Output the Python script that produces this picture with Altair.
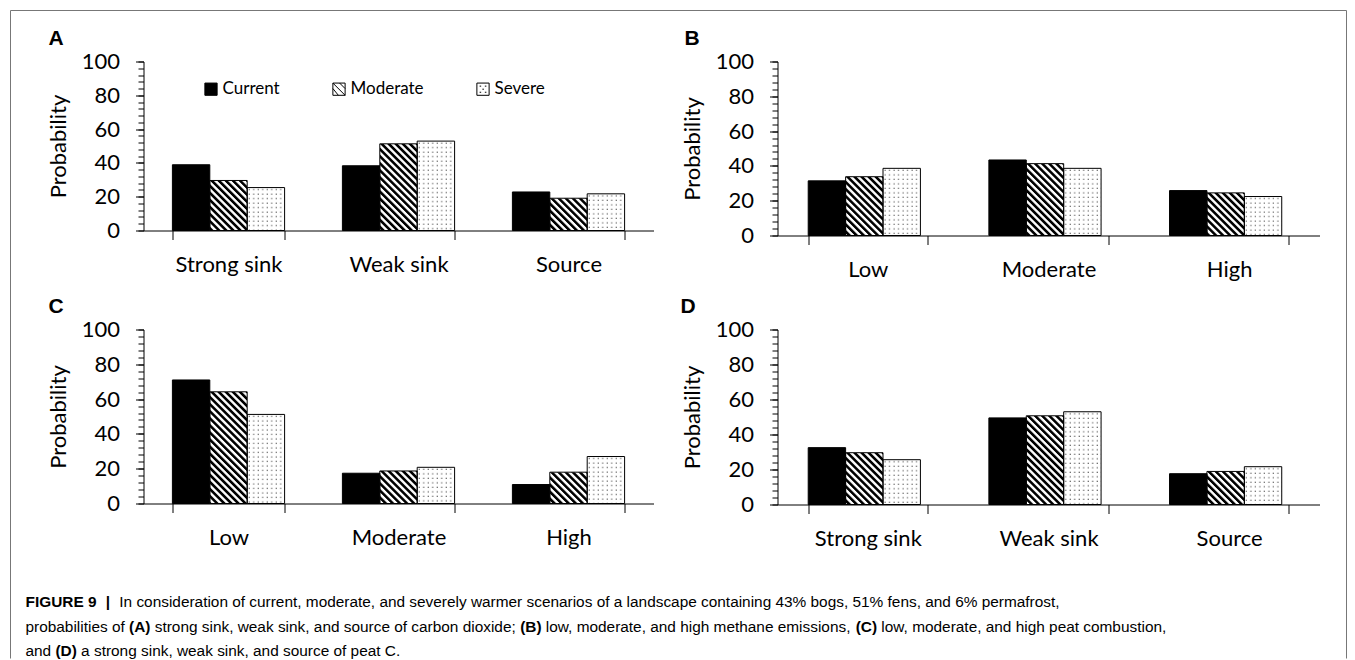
import base64
import altair as alt
import pandas as pd

# ---------------- data ----------------
scenarios = ["Current", "Moderate", "Severe"]
flux_classes = ["Strong sink", "Weak sink", "Source"]
levels = ["Low", "Moderate", "High"]

# (A) carbon dioxide
co2_current = [38.9, 38.3, 22.8]
co2_moderate = [29.6, 51.3, 19.1]
co2_severe = [25.4, 52.9, 21.7]
# (B) methane emissions
ch4_current = [31.4, 43.4, 25.8]
ch4_moderate = [33.8, 41.3, 24.5]
ch4_severe = [38.6, 38.6, 22.4]
# (C) peat combustion
comb_current = [71.0, 17.4, 10.9]
comb_moderate = [64.2, 18.7, 18.0]
comb_severe = [51.2, 20.8, 27.0]
# (D) peat C
peat_current = [32.5, 49.5, 17.6]
peat_moderate = [29.6, 50.7, 18.9]
peat_severe = [25.6, 53.0, 21.6]

caption_lines = [
    [("FIGURE 9", True), ("|", True),
     ("In consideration of current, moderate, and severely warmer scenarios of a landscape "
      "containing 43% bogs, 51% fens, and 6% permafrost,", False)],
    [("probabilities of", False), ("(A)", True),
     ("strong sink, weak sink, and source of carbon dioxide;", False), ("(B)", True),
     ("low, moderate, and high methane emissions,", False), ("(C)", True),
     ("low, moderate, and high peat combustion,", False)],
    [("and", False), ("(D)", True),
     ("a strong sink, weak sink, and source of peat C.", False)],
]


def table(cats, cur, mod, sev):
    rows = []
    for s, vals in zip(scenarios, [cur, mod, sev]):
        for c, v in zip(cats, vals):
            rows.append({"category": c, "scenario": s, "value": v})
    return pd.DataFrame(rows)


# ---------------- styles ----------------
FONT = "Lato"
CAP_FONT = "Liberation Sans"


def svg_uri(inner):
    svg = ('<svg xmlns="http://www.w3.org/2000/svg" width="100%" height="100%">'
           + inner + '</svg>')
    return "data:image/svg+xml;base64," + base64.b64encode(svg.encode()).decode()


HATCH = svg_uri(
    '<defs><pattern id="h" width="5" height="5" patternUnits="userSpaceOnUse" '
    'patternTransform="rotate(-45)"><rect width="2.6" height="5" fill="#000"/></pattern></defs>'
    '<rect width="100%" height="100%" fill="#fff"/><rect width="100%" height="100%" fill="url(#h)"/>')
DOTS = svg_uri(
    '<defs><pattern id="d" width="4.5" height="4.5" patternUnits="userSpaceOnUse">'
    '<rect x="1.5" y="1.5" width="1.1" height="1.1" fill="#444"/></pattern></defs>'
    '<rect width="100%" height="100%" fill="#fff"/><rect width="100%" height="100%" fill="url(#d)"/>')

HATCH_SYM = "M-1,-1H1V1H-1Z M-1,-1L1,1 M-1,-0.1L-0.1,1 M0.1,-1L1,-0.1"
DOT_SYM = ("M-1,-1H1V1H-1Z M-0.55,-0.5h0.25 M0.3,-0.5h0.25 M-0.1,0h0.25 "
           "M-0.55,0.5h0.25 M0.3,0.5h0.25")
SYMBOL_EXPR = ("datum.value === 'Moderate' ? '%s' : (datum.value === 'Severe' ? '%s' : 'square')"
               % (HATCH_SYM, DOT_SYM))


def panel(df, cats, w, h, letter, letter_dx, with_legend=False):
    x_enc = alt.X("category:N", sort=cats, title=None,
                  scale=alt.Scale(paddingInner=0.34, paddingOuter=0.17),
                  axis=alt.Axis(tickBand="extent", labelAngle=0, tickSize=9,
                                labelPadding=15))
    xo = alt.XOffset("scenario:N", sort=scenarios, scale=alt.Scale(domain=scenarios))
    ysc = alt.Scale(domain=[0, 100], nice=False)
    y_major = alt.Y("value:Q", scale=ysc,
                    axis=alt.Axis(orient="left", values=list(range(0, 101, 20)), tickSize=8,
                                  labelPadding=16, title="Probability", titlePadding=11))
    y_minor = alt.Y("value:Q", scale=ysc,
                    axis=alt.Axis(orient="left", values=list(range(0, 101, 4)), tickSize=5.5,
                                  labels=False, domain=False, title=None))
    y_none = alt.Y("value:Q", scale=ysc, axis=None)

    if with_legend:
        leg = alt.Legend(
            title=None, orient="none", legendX=59, legendY=19, direction="horizontal",
            columnPadding=50, symbolSize=150, symbolStrokeColor="black",
            symbolStrokeWidth=1, symbolOpacity=1, symbolType=alt.ExprRef(SYMBOL_EXPR),
            labelFont=FONT, labelFontSize=17, labelColor="black", labelOffset=3)
    else:
        leg = None

    base = alt.Chart(df)
    hatched = base.transform_filter(alt.datum.scenario == "Moderate").mark_image(
        aspect=False).encode(x=x_enc, xOffset=xo, y=y_minor, url=alt.value(HATCH))
    dotted = base.transform_filter(alt.datum.scenario == "Severe").mark_image(
        aspect=False).encode(x=x_enc, xOffset=xo, y=y_none, url=alt.value(DOTS))
    bars = base.mark_bar(stroke="black", strokeWidth=1).encode(
        x=x_enc, xOffset=xo, y=y_major,
        fill=alt.Fill("scenario:N", sort=scenarios,
                      scale=alt.Scale(domain=scenarios,
                                      range=["#000000", "transparent", "transparent"]),
                      legend=leg))
    lab = alt.Chart(pd.DataFrame({"letter": [letter]})).mark_text(
        align="left", baseline="middle", font=CAP_FONT, fontWeight="bold", fontSize=21,
        color="black", x=letter_dx, y=-23).encode(text="letter:N")
    layers = [hatched, dotted, bars, lab]
    return alt.layer(*layers).resolve_axis(y="independent").properties(width=w, height=h)


pA = panel(table(flux_classes, co2_current, co2_moderate, co2_severe), flux_classes,
           510, 169, "A", -95, with_legend=True)
pB = panel(table(levels, ch4_current, ch4_moderate, ch4_severe), levels,
           542, 174, "B", -93)
pC = panel(table(levels, comb_current, comb_moderate, comb_severe), levels,
           510, 174, "C", -95)
pD = panel(table(flux_classes, peat_current, peat_moderate, peat_severe), flux_classes,
           542, 175, "D", -97)

# ---------------- caption (text flowed with Arial-compatible advance widths) ----------------
CAP_SIZE = 15.4
REG_W = dict(zip("abcdefghijklmnopqrstuvwxyz",
                 [556, 556, 500, 556, 556, 278, 556, 556, 222, 222, 500, 222, 833,
                  556, 556, 556, 556, 333, 500, 278, 556, 500, 722, 500, 500, 500]))
REG_W.update({" ": 278, ",": 278, ".": 278, ";": 278, "%": 889, "(": 333, ")": 333,
              "|": 260, "I": 278, "C": 722})
REG_W.update({d: 556 for d in "0123456789"})
BOLD_W = {"F": 611, "I": 278, "G": 778, "U": 722, "R": 722, "E": 667, " ": 278, "9": 556,
          "(": 333, ")": 333, "A": 722, "B": 722, "C": 722, "D": 722, "|": 280}


def adv(s, bold):
    tbl = BOLD_W if bold else REG_W
    return sum(tbl.get(ch, 556) for ch in s) / 1000.0 * CAP_SIZE


CAP_X0 = -118
CAP_Y = [3, 28, 52]
one = pd.DataFrame({"k": [0]})
cap_layers = []
for line, cy in zip(caption_lines, CAP_Y):
    cx = CAP_X0
    for txt, bold in line:
        cap_layers.append(alt.Chart(one).mark_text(
            text=txt, align="left", baseline="middle", font=CAP_FONT, fontSize=CAP_SIZE,
            fontWeight="bold" if bold else "normal", color="black", x=cx, y=cy
        ).encode(opacity=alt.value(1)))
        gap = 0.6 if (txt in ("FIGURE 9", "|")) else 0.278
        cx += adv(txt, bold) + gap * CAP_SIZE

# figure frame
cap_layers.append(alt.Chart(one).mark_rule(color="#777", strokeWidth=1).encode(
    x=alt.value(-133), y=alt.value(-588), y2=alt.value(60)))
cap_layers.append(alt.Chart(one).mark_rule(color="#777", strokeWidth=1).encode(
    x=alt.value(1203), y=alt.value(-588), y2=alt.value(60)))
cap_layers.append(alt.Chart(one).mark_rule(color="#777", strokeWidth=1).encode(
    x=alt.value(-133), x2=alt.value(1203), y=alt.value(-588)))
caption = alt.layer(*cap_layers).properties(width=510, height=60)

chart = alt.concat(pA, pB, pC, pD, caption, columns=2,
                   spacing={"row": 94, "column": 124}, bounds="flush").resolve_scale(
    fill="independent"
).properties(
    padding={"left": 9.5, "top": 9.5, "right": 0, "bottom": 0}
).configure_view(stroke=None).configure_axis(
    labelFont=FONT, labelFontSize=22, labelColor="black",
    titleFont=FONT, titleFontSize=22, titleFontWeight="normal", titleColor="black",
    domainColor="black", tickColor="black", domainWidth=1, tickWidth=1, grid=False
)

chart.save("out.html", embed_options={"renderer": "svg", "actions": False})
